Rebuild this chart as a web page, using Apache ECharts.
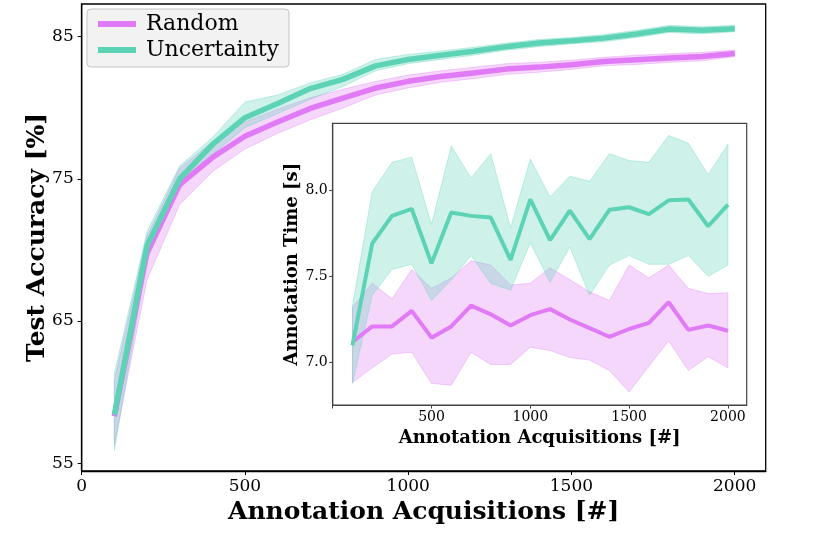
<!DOCTYPE html>
<html><head><meta charset="utf-8">
<script src="https://cdn.jsdelivr.net/npm/echarts@6/dist/echarts.min.js"></script>
<style>html,body{margin:0;padding:0;background:#fff}#c{width:830px;height:548px}</style>
</head><body><div id="c"></div>
<script>
// ---- data ----
const acquisitions = [100,200,300,400,500,600,700,800,900,1000,1100,1200,1300,1400,1500,1600,1700,1800,1900,2000];

// Main: test accuracy [%]
const accRandomMean  = [58.3,69.8,74.6,76.5,78.0,79.0,79.95,80.68,81.39,81.86,82.2,82.44,82.72,82.86,83.03,83.26,83.38,83.5,83.61,83.82];
const accRandomUpper = [60.8,71.0,75.75,77.6,79.0,79.9,80.7,81.3,81.85,82.3,82.6,82.85,83.1,83.2,83.35,83.55,83.7,83.8,83.9,84.05];
const accRandomLower = [56.3,67.9,73.2,75.5,77.1,78.2,79.15,79.98,80.9,81.4,81.8,82.05,82.35,82.5,82.7,82.95,83.05,83.2,83.3,83.6];
const accUncMean     = [58.4,70.3,75.0,77.4,79.3,80.3,81.35,82.0,82.95,83.4,83.7,83.97,84.3,84.55,84.72,84.9,85.19,85.54,85.45,85.56];
const accUncUpper    = [61.3,71.3,75.9,77.9,80.4,80.9,81.75,82.35,83.4,83.75,84.0,84.25,84.55,84.8,84.95,85.15,85.45,85.8,85.7,85.8];
const accUncLower    = [55.9,69.3,74.3,76.7,78.6,79.6,80.6,81.5,82.6,83.1,83.4,83.7,84.05,84.3,84.5,84.65,84.95,85.3,85.2,85.35];

// Inset: annotation time [s]
const timeRandomMean  = [7.12,7.21,7.21,7.30,7.145,7.21,7.33,7.28,7.215,7.275,7.31,7.25,7.20,7.15,7.195,7.23,7.35,7.19,7.215,7.185];
const timeRandomUpper = [7.32,7.46,7.37,7.54,7.43,7.49,7.59,7.565,7.45,7.46,7.55,7.48,7.41,7.36,7.565,7.49,7.565,7.43,7.40,7.405];
const timeRandomLower = [6.885,6.97,7.05,7.06,6.88,6.87,7.06,6.99,6.99,7.09,7.07,7.03,7.015,6.955,6.83,6.98,7.125,6.955,7.035,6.97];
const timeUncMean     = [7.10,7.69,7.85,7.89,7.575,7.87,7.85,7.84,7.595,7.945,7.71,7.88,7.715,7.885,7.90,7.86,7.94,7.945,7.79,7.915];
const timeUncUpper    = [7.33,7.99,8.16,8.19,7.80,8.255,8.07,8.21,7.78,8.18,7.96,8.08,8.05,8.21,8.17,8.16,8.315,8.27,8.09,8.265];
const timeUncLower    = [6.88,7.39,7.54,7.57,7.36,7.48,7.62,7.46,7.42,7.695,7.465,7.67,7.39,7.565,7.62,7.57,7.57,7.62,7.50,7.565];

// tick labels
const xTicksMain  = [0,500,1000,1500,2000];
const yTicksMain  = [55,65,75,85];
const xTicksInset = [500,1000,1500,2000];
const yTicksInset = [7.0,7.5,8.0];

// ---- chart ----
const COL_R = '#E07AF6';
const COL_U = '#5DD3B6';
const SERIF = 'DejaVu Serif';

const pairs = ys => acquisitions.map((x,i)=>[x, ys[i]]);

function band(key, lower, upper, color, ax) {
  return {
    type:'custom', name:key, xAxisIndex:ax, yAxisIndex:ax, silent:true, z:1, clip:true,
    data: acquisitions.map((x,i)=>[x, lower[i], upper[i]]),
    encode:{x:0, y:[1,2]},
    renderItem:function(params, api){
      if (params.dataIndex !== 0) return null;
      const pts = [];
      for (let i=0;i<acquisitions.length;i++) pts.push(api.coord([acquisitions[i], upper[i]]));
      for (let i=acquisitions.length-1;i>=0;i--) pts.push(api.coord([acquisitions[i], lower[i]]));
      return {type:'polygon', shape:{points:pts},
              style:{fill:echarts.color.modifyAlpha(color,0.3), stroke:echarts.color.modifyAlpha(color,0.35), lineWidth:1}};
    }
  };
}
function line(name, ys, color, ax, w, z) {
  return {type:'line', name:name, xAxisIndex:ax, yAxisIndex:ax, data:pairs(ys), symbol:'none',
          z:z, color:color, lineStyle:{width:w, color:color}, itemStyle:{color:color}};
}

const chart = echarts.init(document.getElementById('c'), null, {renderer:'canvas'});
chart.setOption({
  animation:false,
  backgroundColor:'#fff',
  grid:[
    {left:81.7, top:4, right:64.3, bottom:77, show:true, borderColor:'#000', borderWidth:1.3, backgroundColor:'#fff'},
    {left:332.7, top:123.3, right:83.3, bottom:143, show:true, borderColor:'#444', borderWidth:1.2, backgroundColor:'#fff'}
  ],
  legend:{
    data:['Random','Uncertainty'], left:87, top:9, orient:'vertical', icon:'rect',
    itemWidth:38, itemHeight:6, itemGap:4,
    backgroundColor:'#f2f2f2', borderColor:'#c4c4c4', borderWidth:1, borderRadius:4,
    padding:[4,10,6,11],
    textStyle:{fontFamily:SERIF, fontSize:22, color:'#000', padding:[0,0,0,5]}
  },
  xAxis:[
    {type:'value', gridIndex:0, min:0, max:2095,
     axisLine:{show:true, lineStyle:{color:'#000', width:1.3}},
     axisTick:{show:true, length:4, customValues:xTicksMain, lineStyle:{color:'#000'}},
     axisLabel:{customValues:xTicksMain, color:'#000', fontFamily:SERIF, fontSize:17, margin:7, formatter:v=>String(v)},
     splitLine:{show:false},
     name:'Annotation Acquisitions [#]', nameLocation:'middle', nameGap:26,
     nameTextStyle:{fontFamily:SERIF, fontWeight:'bold', fontSize:25, color:'#000'}},
    {type:'value', gridIndex:1, min:0, max:2095,
     axisLine:{show:true, lineStyle:{color:'#444', width:1.2}},
     axisTick:{show:true, length:3.5, customValues:[0].concat(xTicksInset), lineStyle:{color:'#444'}},
     axisLabel:{customValues:xTicksInset, color:'#000', fontFamily:SERIF, fontSize:14, margin:5, formatter:v=>String(v)},
     splitLine:{show:false},
     name:'Annotation Acquisitions [#]', nameLocation:'middle', nameGap:18,
     nameTextStyle:{fontFamily:SERIF, fontWeight:'bold', fontSize:18, color:'#000'}}
  ],
  yAxis:[
    {type:'value', gridIndex:0, min:54.45, max:87.3,
     axisLine:{show:true, lineStyle:{color:'#000', width:1.3}},
     axisTick:{show:true, length:4, customValues:yTicksMain, lineStyle:{color:'#000'}},
     axisLabel:{customValues:yTicksMain, color:'#000', fontFamily:SERIF, fontSize:17, margin:8, formatter:v=>String(v)},
     splitLine:{show:false},
     name:'Test Accuracy [%]', nameLocation:'middle', nameRotate:90, nameGap:32, nameMoveOverlap:false,
     nameTextStyle:{fontFamily:SERIF, fontWeight:'bold', fontSize:25, color:'#000'}},
    {type:'value', gridIndex:1, min:6.755, max:8.386,
     axisLine:{show:true, lineStyle:{color:'#444', width:1.2}},
     axisTick:{show:true, length:3.5, customValues:yTicksInset, lineStyle:{color:'#444'}},
     axisLabel:{customValues:yTicksInset, color:'#000', fontFamily:SERIF, fontSize:14, margin:5,
                formatter:v=>v.toFixed(1)},
     splitLine:{show:false},
     name:'Annotation Time [s]', nameLocation:'middle', nameRotate:90, nameGap:29,
     nameTextStyle:{fontFamily:SERIF, fontWeight:'bold', fontSize:18, color:'#000'}}
  ],
  series:[
    band('accR', accRandomLower, accRandomUpper, COL_R, 0),
    band('accU', accUncLower, accUncUpper, COL_U, 0),
    line('Random', accRandomMean, COL_R, 0, 5.5, 3),
    line('Uncertainty', accUncMean, COL_U, 0, 5.5, 4),
    band('timeR', timeRandomLower, timeRandomUpper, COL_R, 1),
    band('timeU', timeUncLower, timeUncUpper, COL_U, 1),
    line('Random', timeRandomMean, COL_R, 1, 4, 3),
    line('Uncertainty', timeUncMean, COL_U, 1, 4, 4)
  ]
});
</script>
</body></html>
